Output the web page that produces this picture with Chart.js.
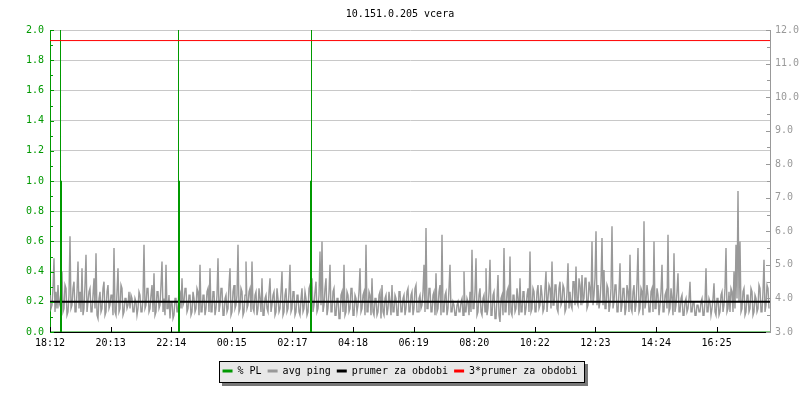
<!DOCTYPE html>
<html>
<head>
<meta charset="utf-8">
<title>10.151.0.205 vcera</title>
<script src="https://cdn.jsdelivr.net/npm/chart.js@4.4.1/dist/chart.umd.min.js"></script>
<style>
  html, body { margin: 0; padding: 0; background: #fff; }
  canvas { display: block; }
</style>
</head>
<body>
<canvas id="pingChart" width="800" height="400"></canvas>
<script>
// casova osa v minutach od 18:12, popisky po 121.2 min
const tickLabels = ['18:12', '20:13', '22:14', '00:15', '02:17', '04:18', '06:19', '08:20', '10:22', '12:23', '14:24', '16:25'];
const tickStep = 121.2;
const periodMin = 1440;
const pingStep = 2;

// avg ping [ms], vzorek kazde 2 minuty
const pingValues = [
  4.1,3.7, 3.8,4.3, 5.2,3.6, 4.2,3.7, 4.4,3.8, 3.9,4.2, 4.8,3.6, 3.7,4.4, 4.3,3.5, 3.6,4.1, 5.85,3.7, 3.8,4.3, 4.5,3.6, 3.6,4.2, 5.1,3.7, 4.2,3.6, 4.9,3.5, 3.7,4.4, 5.3,3.6, 3.9,4.2,
  4.3,3.6, 3.6,4.1, 4.6,3.7, 5.35,3.5, 3.4,4.0, 4.2,3.6, 3.7,4.3, 4.5,3.5, 3.6,4.2, 4.4,3.7, 3.8,4.1, 4.1,3.5, 5.5,3.6, 3.5,4.2, 4.9,3.6, 3.7,4.4, 4.3,3.5, 3.6,4.0, 4.0,3.7, 3.8,4.2,
  3.7,4.1, 4.0,3.6, 3.6,4.0, 3.9,3.5, 3.7,4.2, 4.1,3.6, 3.6,4.0, 5.6,3.7, 3.8,4.3, 4.3,3.6, 3.7,4.1, 4.4,3.6, 4.75,3.5, 3.6,4.2, 4.2,3.7, 3.8,4.4, 5.1,3.6, 4.0,3.5, 5.0,3.7, 3.7,4.1,
  3.4,3.9, 3.9,3.4, 3.5,4.0, 4.0,3.6, 3.6,4.3, 4.2,3.7, 4.6,3.8, 3.9,4.3, 4.3,3.6, 3.7,4.1, 4.1,3.5, 3.6,4.2, 4.0,3.6, 3.7,4.3, 4.2,3.5, 5.0,3.6, 3.6,4.1, 4.1,3.5, 3.7,4.2, 4.3,3.6,
  4.9,3.6, 3.6,4.2, 4.2,3.5, 3.7,4.1, 5.2,3.6, 3.8,4.3, 4.3,3.5, 3.5,4.0, 4.1,3.6, 3.7,4.4, 4.9,3.5, 3.6,4.2, 4.4,3.7, 3.8,4.1, 5.6,3.6, 3.7,4.3, 4.2,3.5, 3.6,4.1, 5.1,3.7, 3.8,4.2,
  4.3,3.6, 5.1,3.7, 3.6,4.1, 4.2,3.5, 3.7,4.3, 4.0,3.6, 4.6,3.5, 3.5,4.0, 4.1,3.7, 3.6,4.2, 4.6,3.6, 3.8,4.1, 4.2,3.5, 3.6,4.3, 4.0,3.6, 3.7,4.2, 4.8,3.5, 3.6,4.1, 4.3,3.6, 3.7,4.2,
  5.0,3.6, 3.7,4.2, 4.2,3.5, 3.6,4.1, 4.1,3.6, 3.5,4.0, 4.3,3.6, 3.7,4.2, 4.0,3.5, 3.6,4.3, 4.4,3.7, 4.6,3.6, 3.8,4.2, 4.5,3.6, 3.7,4.1, 5.4,3.8, 5.7,3.6, 3.8,4.3, 4.6,3.5, 3.7,4.2,
  5.0,3.6, 3.6,4.2, 4.3,3.5, 3.5,4.0, 4.0,3.4, 3.4,4.1, 4.2,3.6, 5.0,3.5, 3.6,4.2, 4.1,3.6, 3.7,4.3, 4.3,3.5, 3.5,4.1, 4.0,3.6, 3.8,4.2, 4.9,3.6, 3.7,4.1, 4.2,3.5, 5.6,3.6, 3.6,4.2,
  4.1,3.5, 4.6,3.6, 3.5,4.0, 4.0,3.5, 3.6,4.1, 4.2,3.4, 4.4,3.6, 3.5,4.0, 4.1,3.5, 3.7,4.2, 3.9,3.5, 4.4,3.6, 3.6,4.1, 4.0,3.5, 3.5,4.2, 4.2,3.6, 3.6,4.0, 4.1,3.5, 3.7,4.2, 4.3,3.6,
  3.6,4.1, 4.2,3.5, 3.7,4.3, 4.4,3.6, 3.6,4.0, 4.1,3.7, 3.8,4.2, 5.0,3.6, 6.1,3.7, 3.7,4.3, 4.3,3.6, 3.6,4.1, 4.2,3.5, 4.75,3.6, 3.7,4.2, 4.4,3.5, 5.9,3.6, 3.6,4.1, 4.2,3.5, 3.7,4.3,
  5.0,3.6, 3.6,3.9, 3.8,3.5, 3.5,3.8, 3.9,3.6, 3.6,3.9, 4.0,3.5, 4.8,3.6, 3.6,4.0, 3.9,3.5, 4.2,3.6, 5.45,3.7, 3.7,4.2, 5.2,3.5, 3.6,4.1, 4.3,3.6, 3.5,4.0, 4.1,3.6, 4.9,3.5, 3.7,4.2,
  5.15,3.5, 3.5,4.1, 4.2,3.4, 3.4,4.0, 4.7,3.5, 3.3,4.0, 4.1,3.5, 5.5,3.6, 3.6,4.2, 4.3,3.5, 5.25,3.6, 3.5,4.1, 4.1,3.6, 3.7,4.3, 4.0,3.5, 4.6,3.6, 3.6,4.2, 4.2,3.5, 3.7,4.1, 4.3,3.6,
  5.4,3.6, 3.7,4.3, 4.2,3.6, 3.6,4.2, 4.4,3.7, 3.8,4.4, 4.1,3.6, 3.7,4.3, 4.8,3.6, 4.0,4.4, 4.3,3.7, 5.1,3.8, 3.8,4.4, 4.4,3.7, 3.6,4.3, 4.5,3.8, 3.9,4.4, 4.3,3.6, 3.7,4.2, 5.05,3.7,
  4.2,3.8, 3.7,4.5, 4.5,3.8, 4.95,3.9, 3.8,4.6, 4.4,3.8, 4.7,3.9, 4.0,4.6, 4.6,3.7, 3.8,4.5, 4.3,3.9, 5.7,3.8, 4.1,4.6, 6.0,3.8, 4.4,3.7, 3.9,4.5, 5.8,3.8, 4.85,3.7, 3.7,4.4, 4.3,3.6,
  3.8,4.3, 6.15,3.7, 3.9,4.4, 4.4,3.6, 3.6,4.2, 5.05,3.6, 3.8,4.3, 4.3,3.5, 3.7,4.4, 4.2,3.6, 5.3,3.7, 3.6,4.2, 4.4,3.6, 3.8,4.5, 5.5,3.6, 3.7,4.3, 4.2,3.5, 6.3,3.7, 3.9,4.4, 4.1,3.6,
  3.6,4.2, 4.3,3.6, 5.7,3.7, 3.7,4.3, 4.1,3.5, 3.8,4.2, 5.0,3.6, 3.6,4.1, 4.2,3.7, 5.9,3.6, 3.7,4.3, 4.0,3.5, 5.35,3.6, 3.8,4.2, 4.75,3.6, 3.6,4.0, 4.1,3.5, 3.5,3.9, 4.0,3.6, 3.7,4.0,
  4.5,3.6, 3.6,3.9, 3.9,3.5, 3.5,3.8, 3.8,3.6, 3.6,3.9, 4.0,3.5, 3.5,3.9, 4.9,3.6, 3.6,4.0, 3.9,3.5, 3.7,4.0, 4.45,3.6, 3.5,4.0, 4.0,3.5, 3.6,4.1, 4.2,3.6, 3.8,4.3, 5.5,3.6, 3.7,4.2,
  3.6,4.3, 4.2,3.6, 4.8,3.7, 5.6,4.0, 7.2,3.9, 5.7,3.6, 3.7,4.2, 4.3,3.5, 3.6,4.1, 4.1,3.6, 3.7,4.3, 4.2,3.5, 3.6,4.1, 4.0,3.6, 3.7,4.4, 4.3,3.6, 3.6,4.2, 5.15,3.6, 3.8,4.4, 4.3,3.7
];

// % PL - ztrata paketu (cas v minutach, hodnota)
const plTimes  = [0, 21, 21, 21, 23, 23, 257, 257, 257, 259, 259, 521, 521, 523, 523, 523, 1440];
const plValues = [0,  0, 100, 1,  1,  0,   0, 100,   1,   1,   0,   0,   1,   1, 100,   0,    0];

const prumer = 3.9;
const prumer3 = 11.7;

const monoFont = { family: "'DejaVu Sans Mono', monospace", size: 10, weight: 'normal' };

// ramecek legendy se stinem
const legendBox = {
    id: 'legendBox',
    beforeDraw(chart) {
        const boxes = chart.legend && chart.legend.legendHitBoxes;
        if (!boxes || !boxes.length) return;
        const first = boxes[0], last = boxes[boxes.length - 1];
        const x1 = Math.round(first.left) - 4, x2 = Math.round(last.left + last.width) + 8;
        const yc = Math.round(first.top + first.height / 2);
        const y1 = yc - 10, y2 = yc + 12;
        const ctx = chart.ctx;
        ctx.save();
        ctx.fillStyle = '#777777'; ctx.fillRect(x1 + 3, y1 + 3, x2 - x1, y2 - y1);
        ctx.fillStyle = '#e8e8e8'; ctx.fillRect(x1, y1, x2 - x1, y2 - y1);
        ctx.strokeStyle = '#000'; ctx.lineWidth = 1;
        ctx.strokeRect(x1 + 0.5, y1 + 0.5, x2 - x1 - 1, y2 - y1 - 1);
        ctx.restore();
    }
};

// ostra 1px cara pro cervenou uroven
const crispLine = {
    id: 'crispLine',
    beforeDatasetDraw(chart, args) {
        if (args.index === 3) { chart.ctx.save(); chart.ctx.translate(0, 0.5); }
    },
    afterDatasetDraw(chart, args) {
        if (args.index === 3) chart.ctx.restore();
    }
};

// male znacky dovnitr grafu (hlavni + vedlejsi)
const innerTicks = {
    id: 'innerTicks',
    afterDraw(chart) {
        const ctx = chart.ctx, a = chart.chartArea;
        const sx = chart.scales.x, yl = chart.scales.y, yr = chart.scales.yR;
        const seg = (x1, y1, x2, y2) => { ctx.beginPath(); ctx.moveTo(x1, y1); ctx.lineTo(x2, y2); ctx.stroke(); };
        const withMinor = s => {
            let out = [];
            s.ticks.forEach((t, i) => {
                out.push({ v: t.value, major: true });
                if (i < s.ticks.length - 1) out.push({ v: (t.value + s.ticks[i + 1].value) / 2, major: false });
            });
            return out;
        };
        ctx.save(); ctx.lineWidth = 1;
        ctx.strokeStyle = '#000';
        sx.ticks.forEach(t => { let px = Math.round(sx.getPixelForValue(t.value)) + 0.5; seg(px, a.bottom, px, a.bottom - 5); });
        ctx.strokeStyle = '#009900';
        withMinor(yl).forEach(m => { let py = Math.round(yl.getPixelForValue(m.v)) + 0.5; seg(a.left, py, a.left + (m.major ? 4 : 3), py); });
        ctx.strokeStyle = '#999999';
        withMinor(yr).forEach(m => { let py = Math.round(yr.getPixelForValue(m.v)) + 0.5; seg(a.right, py, a.right - (m.major ? 4 : 3), py); });
        ctx.restore();
    }
};

document.addEventListener('DOMContentLoaded', () => {
    Chart.defaults.font = monoFont;

    new Chart(document.getElementById('pingChart'), {
        type: 'line',
        data: {
            datasets: [
                { label: '% PL', data: plTimes.map((t, i) => ({ x: t, y: plValues[i] })), yAxisID: 'y',
                  borderColor: '#009900', backgroundColor: '#009900', borderWidth: 1, pointRadius: 0, order: 1 },
                { label: 'avg ping', data: pingValues.map((v, i) => ({ x: i * pingStep, y: v })), yAxisID: 'yR',
                  borderColor: '#999999', backgroundColor: '#999999', borderWidth: 1.4, pointRadius: 0, order: 3 },
                { label: 'prumer za obdobi', data: [{ x: 0, y: prumer }, { x: periodMin, y: prumer }], yAxisID: 'yR',
                  borderColor: '#000000', backgroundColor: '#000000', borderWidth: 2, pointRadius: 0, order: 2 },
                { label: '3*prumer za obdobi', data: [{ x: 0, y: prumer3 }, { x: periodMin, y: prumer3 }], yAxisID: 'yR',
                  borderColor: '#ff0000', backgroundColor: '#ff0000', borderWidth: 1, pointRadius: 0, order: 0 }
            ]
        },
        options: {
            responsive: false, animation: false, devicePixelRatio: 1, events: [],
            elements: { line: { tension: 0 } },
            layout: { padding: { left: 0, right: 0, top: 0, bottom: 14 } },
            scales: {
                x: {
                    type: 'linear', min: 0, max: periodMin, z: 1,
                    grid: { display: false, drawTicks: false },
                    border: { display: true, color: '#000', width: 1 },
                    ticks: { autoSkip: false, maxRotation: 0, padding: 5, color: '#000', callback: (v, i) => tickLabels[i] },
                    afterBuildTicks: s => { s.ticks = tickLabels.map((l, k) => ({ value: k * tickStep })); },
                    afterFit: s => { s.height = 28; }
                },
                y: {
                    position: 'left', min: 0, max: 2,
                    grid: { color: '#c8c8c8', drawTicks: false },
                    border: { color: '#009900', width: 1 },
                    ticks: { stepSize: 0.2, color: '#009900', padding: 6, callback: v => v.toFixed(1) },
                    afterFit: s => { s.width = 50; }
                },
                yR: {
                    position: 'right', min: 3, max: 12,
                    grid: { display: false, drawTicks: false },
                    border: { color: '#999999', width: 1 },
                    ticks: { stepSize: 1, color: '#999999', padding: 5, callback: v => v.toFixed(1) },
                    afterFit: s => { s.width = 30; }
                }
            },
            plugins: {
                title: { display: true, text: '10.151.0.205 vcera', color: '#000', font: monoFont, padding: { top: 8, bottom: 10 } },
                tooltip: { enabled: false },
                legend: {
                    position: 'bottom',
                    labels: {
                        color: '#000', font: monoFont, boxWidth: 10, boxHeight: 3, padding: 6,
                        generateLabels: c => Chart.defaults.plugins.legend.labels.generateLabels(c)
                            .map(l => Object.assign(l, { lineWidth: 0, fillStyle: l.strokeStyle })),
                        sort: (a, b) => a.datasetIndex - b.datasetIndex
                    }
                }
            }
        },
        plugins: [legendBox, crispLine, innerTicks]
    });
});
</script>
</body>
</html>
